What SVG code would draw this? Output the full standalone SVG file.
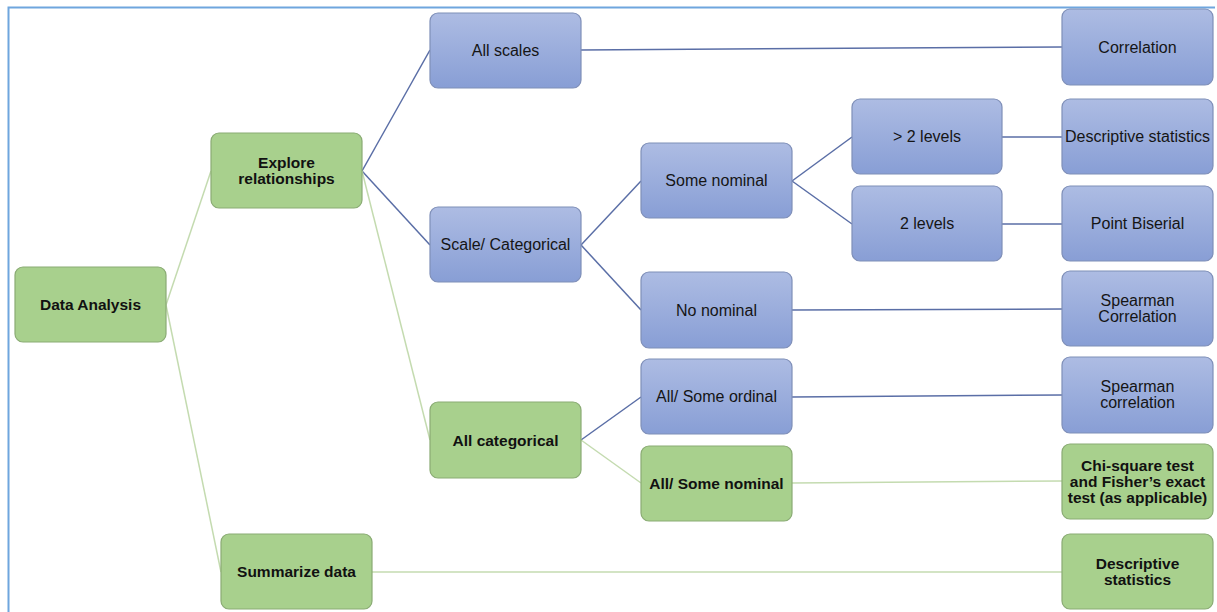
<svg xmlns="http://www.w3.org/2000/svg" width="1217" height="612" viewBox="0 0 1217 612">
  <style>
    .blue rect { fill: url(#gBlue); stroke: #7f8fb8; stroke-width: 1.2; }
    .green rect { fill: #a8d08d; stroke: #8aab74; stroke-width: 1.2; }
    .blue text { font-family: "Liberation Sans", Arial, sans-serif; font-size: 16px; fill: #151515; text-anchor: middle; dominant-baseline: central; }
    .green text { font-family: "Liberation Sans", Arial, sans-serif; font-size: 15.5px; font-weight: bold; fill: #111; text-anchor: middle; dominant-baseline: central; }
    .cb { stroke: #5a6ea6; stroke-width: 1.5; fill: none; }
    .cg { stroke: #c4dbb0; stroke-width: 1.5; fill: none; }
  </style>
  <defs>
    <linearGradient id="gBlue" x1="0" y1="0" x2="0" y2="1">
      <stop offset="0" stop-color="#adbce3"/>
      <stop offset="1" stop-color="#889ed5"/>
    </linearGradient>
  </defs>
  <rect width="1217" height="612" fill="#fff"/>
  <!-- frame -->
  <path d="M8.5 612 V7.5 H1215" fill="none" stroke="#6fa6de" stroke-width="2"/>

  <g id="connectors">
    <line class="cg" x1="166" y1="305" x2="211" y2="171"/>
    <line class="cg" x1="166" y1="305" x2="221" y2="572"/>
    <line class="cb" x1="362" y1="171" x2="430" y2="50"/>
    <line class="cb" x1="362" y1="171" x2="430" y2="245"/>
    <line class="cg" x1="362" y1="171" x2="430" y2="440"/>
    <line class="cb" x1="581" y1="50" x2="1062" y2="47"/>
    <line class="cb" x1="581" y1="245" x2="641" y2="181"/>
    <line class="cb" x1="581" y1="245" x2="641" y2="310"/>
    <line class="cb" x1="792" y1="181" x2="852" y2="137"/>
    <line class="cb" x1="792" y1="181" x2="852" y2="224"/>
    <line class="cb" x1="1002" y1="137" x2="1062" y2="137"/>
    <line class="cb" x1="1002" y1="224" x2="1062" y2="224"/>
    <line class="cb" x1="792" y1="310" x2="1062" y2="309"/>
    <line class="cb" x1="581" y1="440" x2="641" y2="397"/>
    <line class="cg" x1="581" y1="440" x2="641" y2="483"/>
    <line class="cb" x1="792" y1="397" x2="1062" y2="395"/>
    <line class="cg" x1="792" y1="483" x2="1062" y2="481"/>
    <line class="cg" x1="372" y1="572" x2="1062" y2="572"/>
  </g>

  <g id="data-analysis" class="green">
    <rect x="15" y="267" width="151" height="75" rx="8"/>
    <text x="90.5" y="304.5">Data Analysis</text>
  </g>
  <g id="explore-relationships" class="green">
    <rect x="211" y="133" width="151" height="75" rx="8"/>
    <text x="286.5" y="162">Explore</text>
    <text x="286.5" y="178">relationships</text>
  </g>
  <g id="summarize-data" class="green">
    <rect x="221" y="534" width="151" height="75" rx="8"/>
    <text x="296.5" y="571.5">Summarize data</text>
  </g>
  <g id="all-scales" class="blue">
    <rect x="430" y="13" width="151" height="75" rx="8"/>
    <text x="505.5" y="50.5">All scales</text>
  </g>
  <g id="scale-categorical" class="blue">
    <rect x="430" y="207" width="151" height="75" rx="8"/>
    <text x="505.5" y="244.5">Scale/ Categorical</text>
  </g>
  <g id="all-categorical" class="green">
    <rect x="430" y="402" width="151" height="76" rx="8"/>
    <text x="505.5" y="440">All categorical</text>
  </g>
  <g id="some-nominal" class="blue">
    <rect x="641" y="143" width="151" height="75" rx="8"/>
    <text x="716.5" y="180.5">Some nominal</text>
  </g>
  <g id="no-nominal" class="blue">
    <rect x="641" y="272" width="151" height="76" rx="8"/>
    <text x="716.5" y="310">No nominal</text>
  </g>
  <g id="all-some-ordinal" class="blue">
    <rect x="641" y="359" width="151" height="75" rx="8"/>
    <text x="716.5" y="396.5">All/ Some ordinal</text>
  </g>
  <g id="all-some-nominal" class="green">
    <rect x="641" y="446" width="151" height="75" rx="8"/>
    <text x="716.5" y="483.5">All/ Some nominal</text>
  </g>
  <g id="more-than-2-levels" class="blue">
    <rect x="852" y="99" width="150" height="75" rx="8"/>
    <text x="927" y="136.5">&gt; 2 levels</text>
  </g>
  <g id="two-levels" class="blue">
    <rect x="852" y="186" width="150" height="75" rx="8"/>
    <text x="927" y="223.5">2 levels</text>
  </g>
  <g id="correlation" class="blue">
    <rect x="1062" y="9" width="151" height="76" rx="8"/>
    <text x="1137.5" y="47">Correlation</text>
  </g>
  <g id="descriptive-statistics-blue" class="blue">
    <rect x="1062" y="99" width="151" height="75" rx="8"/>
    <text x="1137.5" y="136.5">Descriptive statistics</text>
  </g>
  <g id="point-biserial" class="blue">
    <rect x="1062" y="186" width="151" height="75" rx="8"/>
    <text x="1137.5" y="223.5">Point Biserial</text>
  </g>
  <g id="spearman-correlation-1" class="blue">
    <rect x="1062" y="271" width="151" height="75" rx="8"/>
    <text x="1137.5" y="300.5">Spearman</text>
    <text x="1137.5" y="316.5">Correlation</text>
  </g>
  <g id="spearman-correlation-2" class="blue">
    <rect x="1062" y="357" width="151" height="76" rx="8"/>
    <text x="1137.5" y="386">Spearman</text>
    <text x="1137.5" y="402">correlation</text>
  </g>
  <g id="chi-square" class="green">
    <rect x="1062" y="444" width="151" height="75" rx="8"/>
    <text x="1137.5" y="465">Chi-square test</text>
    <text x="1137.5" y="481">and Fisher’s exact</text>
    <text x="1137.5" y="497">test (as applicable)</text>
  </g>
  <g id="descriptive-statistics-green" class="green">
    <rect x="1062" y="534" width="151" height="75" rx="8"/>
    <text x="1137.5" y="563.5">Descriptive</text>
    <text x="1137.5" y="579.5">statistics</text>
  </g>
</svg>
